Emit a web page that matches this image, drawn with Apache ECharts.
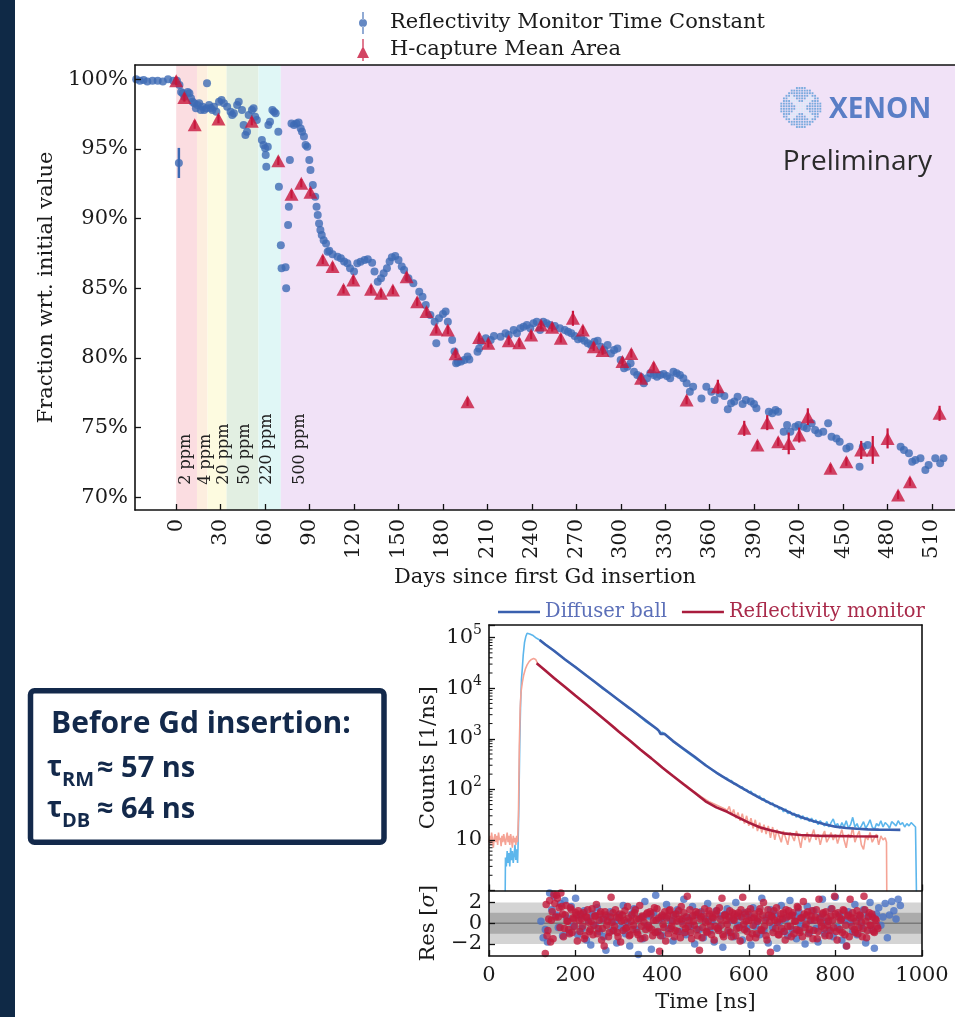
<!DOCTYPE html>
<html><head><meta charset="utf-8">
<script src="https://cdn.jsdelivr.net/npm/echarts@6/dist/echarts.min.js"></script>
<style>html,body{margin:0;padding:0;background:#fff}#c{width:955px;height:1017px}</style>
</head><body><div id="c"></div>
<script>
// ================= DATA =================
// --- top panel: axis ticks ---
const dayTicks = [0,30,60,90,120,150,180,210,240,270,300,330,360,390,420,450,480,510];
const pctTicks = [70,75,80,85,90,95,100];
// --- Gd concentration periods (days) ---
const bandStart = [0, 14, 21.1, 34, 55.5, 70.6];
const bandEnd   = [14, 21.1, 34, 55.5, 70.6, 530];
const bandLabel = ['2 ppm','4 ppm','20 ppm','50 ppm','220 ppm','500 ppm'];
const bandLabelDay = [6.2, 20, 32.2, 46.6, 61.1, 83.3];
// --- Reflectivity Monitor Time Constant (fraction, %) ---
const rmDay = [
-27,-24.5,-22,-19.5,-16,-12.5,-9,-5.5,-2,0.5,
1.8,2.2,3.3,4.4,5.5,7.8,8.9,10,11,12.2,
13.3,14.4,15.5,16.6,17.8,18.9,20.4,20.8,22.2,23.3,
24.4,25.5,27.1,28.9,30.6,32.2,34.4,36.7,37.8,38.9,
41.1,42.2,44.4,45.5,46.7,47.8,48.9,51.1,52.2,53.3,
54.4,57.8,58.9,60,60.4,60.8,61.8,62.2,63.3,64.9,
66,67.1,68.9,69.3,70.6,71.1,73.8,74.2,75.5,76,
76.7,77.8,79.5,81.1,82.6,84,84.9,86.2,87.3,88.4,
89.8,90.6,92.2,93.8,94.7,95.5,96.4,97.3,98.2,99.5,
101.1,102.2,103.3,105.5,108.9,111.1,113.3,115.5,117.3,120,
122.2,124.4,127.1,129.3,132.2,133.8,136,138.2,140,142.2,
144,145.5,147.8,150,152.2,153.8,156.7,160,164,166.2,
168.4,171.5,174.4,175.5,177.3,180,181.8,183.3,186.2,187.8,
188.9,190,192.2,194.4,196.6,197.8,203.3,204.4,205.5,208.9,
212.2,214.4,218.9,222.2,224.4,227.7,229.9,232.2,234.4,236.6,
238.9,241.1,243.3,245.5,247.7,249.9,252.2,255.5,258.9,262.2,
264.4,266.6,268.9,271.1,273.3,275.5,277.7,279.9,282.2,284.4,
286.6,288.9,291.1,293.3,295.5,297.7,299.9,302.2,304.4,306.6,
308.9,311.1,313.3,315.5,317.7,319.9,322.2,324.4,326.6,328.9,
331.1,333.3,335.5,337.7,339.9,342.2,344.4,346.6,348.8,354.4,
357.7,361.1,363.3,366.6,369.9,372.2,374.4,376.6,378.8,382.2,
384.4,387.7,389.9,391.5,399.9,402.2,404.4,406.2,409.9,412.2,
414.4,417.7,419.9,423.3,425.5,428.8,431.1,433.3,436.6,439.9,
442.2,445.5,447.7,452.2,454.4,461.1,463.3,466.6,488.8,491.1,
494.4,496.6,498.8,502.2,505.5,507.7,512.2,515.5,517.7];
const rmVal = [
100.0,99.9,99.95,99.85,99.9,99.9,99.85,100.0,99.9,99.9,
94.0,99.6,99.1,99.0,98.76,99.1,99.0,98.64,98.4,98.28,
97.92,98.16,98.28,97.8,98.04,97.8,97.92,99.72,98.16,97.95,
97.8,98.04,97.68,98.4,98.52,98.28,98.04,97.68,97.44,97.56,
98.16,98.4,97.8,96.72,96.0,96.24,97.44,97.8,97.92,97.32,
97.08,95.65,95.29,95.05,94.57,93.73,95.17,96.72,96.96,97.8,
97.68,97.56,96.24,92.29,88.1,86.44,86.51,85.0,89.55,90.86,
94.21,96.84,96.72,96.84,96.9,96.48,96.24,95.89,95.29,95.17,
94.21,93.49,92.42,91.58,90.86,90.26,89.66,89.18,88.82,88.46,
88.22,87.63,87.7,87.45,87.27,87.16,86.92,86.8,86.44,86.2,
86.8,86.9,87.04,87.08,86.84,86.2,85.48,85.72,86.08,86.44,
86.92,87.23,87.32,87.04,86.56,86.32,85.72,85.36,84.76,84.4,
83.8,83.09,82.61,81.05,82.85,83.15,83.33,82.61,81.29,80.46,
79.62,79.7,79.74,79.86,80.1,79.9,80.45,80.69,81.17,81.41,
81.29,81.58,81.53,81.77,81.65,82.01,81.77,82.13,82.25,82.37,
82.13,82.49,82.61,82.01,82.61,82.49,82.37,82.3,82.13,82.01,
81.89,81.77,81.58,81.34,81.41,81.24,81.05,80.93,81.17,81.24,
80.81,80.57,80.93,80.33,80.57,80.69,79.86,79.26,79.38,79.62,
79.02,78.78,78.66,78.18,78.54,78.9,78.78,78.66,78.78,78.85,
78.71,78.54,79.02,78.9,78.78,78.54,78.18,77.58,77.94,77.1,
77.94,77.58,76.98,77.46,77.27,76.32,76.75,76.87,77.22,76.7,
76.98,76.87,76.7,76.39,76.15,76.03,76.27,76.15,74.71,75.19,
74.71,75.07,75.19,75.07,74.95,75.31,74.83,74.59,74.71,75.31,
74.35,74.23,73.99,73.51,73.63,72.2,73.63,73.75,73.63,73.39,
73.16,72.56,72.68,72.8,71.96,72.32,72.8,72.44,72.8];
// visible error bar on the reflectivity-monitor series
const rmErrDay = [1.8];
const rmErrVal = [94.0];
const rmErrSize = [1.08];
// --- H-capture Mean Area ---
const hcDay = [0,5.5,12.5,28.5,51,68.9,77.8,84.4,90.6,98.9,105.5,112.9,119.5,131.5,138.2,146.2,155.5,162.6,168.9,175.5,183.3,188.5,196.6,204.4,210.6,224.4,231.5,239.5,246.2,253.7,259.5,267.7,274.4,281.7,287.7,301.1,307.1,313.7,322.2,344.4,365.5,383.3,392.2,398.8,406.2,413.3,420.4,426.2,441.5,452.2,462.2,470,480,487.1,495.1,515.1];
const hcVal = [99.9,98.7,96.75,97.15,97.0,94.15,91.75,92.55,91.9,87.05,86.56,84.93,85.6,84.93,84.64,84.88,85.84,84.04,83.33,82.06,82.01,80.3,76.86,81.48,81.05,81.24,81.1,81.65,82.37,82.2,81.41,82.85,82.01,80.81,80.53,79.74,80.33,78.54,79.38,76.98,77.94,74.95,73.75,75.36,73.99,73.87,74.47,75.79,72.08,72.56,73.4,73.4,74.23,70.17,71.12,76.03];
const hcErr = [0.3,0.3,0.3,0.3,0.3,0.3,0.3,0.3,0.3,0.3,0.3,0.3,0.3,0.3,0.3,0.3,0.3,0.3,0.3,0.3,0.3,0.3,0.3,0.3,0.3,0.3,0.3,0.3,0.3,0.3,0.3,0.54,0.3,0.3,0.3,0.3,0.3,0.3,0.3,0.3,0.5,0.54,0.3,0.54,0.3,0.78,0.54,0.6,0.3,0.3,0.65,1.0,0.72,0.3,0.3,0.54];

// --- bottom panel: waveform (Counts [1/ns]) ---
const timeTicks = [0,200,400,600,800,1000];
const resTicks = [-2,0,2];
const resBandLevels = [2, 1];
// Diffuser ball data
const dbT = [0,37,38,40,42,44,46,48,50,52,54,56,58,60,62,64,66,67,
69,71,73,75,77,79,82,85,88,91,94,98,102,106,110,117,
120,140,160,180,200,220,240,260,280,300,320,340,360,380,390,395,400,420,440,460,480,500,520,540,
550,555,560,565,570,575,580,585,590,595,
600,605,610,615,620,625,630,635,640,645,
650,655,660,665,670,675,680,685,690,695,
700,705,710,715,720,725,730,735,740,745,
750,755,760,765,770,775,780,785,790,795,
800,805,810,815,820,825,830,835,840,845,
850,855,860,865,870,875,880,885,890,895,
900,905,910,915,920,925,930,935,940,945,
950,955,960,965,970,975,980,985,987,988,1000];
const dbV = [0.3,0.3,4.5,3,6,3.5,5.5,3,7,4,6,3.5,5,8,4,6.5,3.5,7,
50,800,5000,15000,25000,45000,80000,105000,122000,125000,118000,112000,110000,104000,97000,90000,
86500,64000,47500,34000,26300,19000,14200,10100,7800,5750,4250,3150,2250,1720,1500,1300,1350,960,700,520,390,310,225,175,
165,148,150,128,130,121,108,112,96,99,
86,92,78,80,70,74,61,66,55,58,
50,54,45,48,40,44,36,41,33,37,
31,34,28,32,26,30,25,28,23,27,
22,25,20,24,21,19,23,18,22,26,
19,21,17,22,18,24,17,20,28,18,
21,16,19,23,17,20,25,18,16,21,
19,24,18,22,20,17,23,21,19,24,
20,22,18,21,19,22,20,18,17,0.3,0.3];
// Reflectivity monitor data
const rmT = [0,2,4,6,8,10,12,14,16,18,20,22,24,26,28,30,32,34,36,38,40,42,44,46,48,50,52,54,56,58,60,62,64,66,
68,70,72,74,77,80,84,88,93,98,103,108,112,
130,150,170,190,210,230,250,270,290,310,330,350,370,390,410,430,450,470,490,510,530,545,
550,555,560,565,570,575,580,585,590,595,
600,605,610,615,620,625,630,635,640,645,
650,655,660,665,670,675,680,685,690,695,
700,705,710,715,720,725,730,735,740,745,
750,755,760,765,770,775,780,785,790,795,
800,805,810,815,820,825,830,835,840,845,
850,855,860,865,870,875,880,885,890,895,
900,905,910,915,918,919,1000];
const rmV = [9,12,8,14,10,7,11,13,9,12,8,14,10,11,7.5,12,9,13,10,8,11,14,9,12,8,13,10,7,12,9,11,8,12,9,
30,700,4000,8500,13000,18000,24000,29000,34000,37000,38500,37000,31000,
22000,16300,11500,8400,6000,4400,3200,2300,1700,1150,860,620,440,330,225,170,130,95,72,56,47,41,
38,46,31,40,27,35,24,33,21,30,
19,27,17,25,15,22,14,20,13,19,
11,18,10,16,12,9,15,11,8,14,
12,9.5,15,11,7,13,10,14,9,12,
16,10,13,8,12,15,9,11,14,10,
13,8.5,12,16,10,7,13,11,18,9,
12,15,8,6.5,12,10,14,9,11,13,
8,12,10,11,9,0.3,0.3];
// Fits
const dbFitT = [117,130,150,175,200,225,250,275,300,325,350,375,388,393,396,400,405,425,450,475,500,525,550,575,600,625,650,675,700,725,750,775,800,825,850,875,900,925,950];
const dbFitV = [90000,73000,55000,37500,26000,17800,12300,8400,5800,4000,2750,1900,1560,1420,1250,1330,1260,900,630,440,300,215,158,118,89,68,53,42,33,27.5,23.5,20.5,18.3,17.2,16.6,16.2,16.0,15.9,15.8];
const rmFitT = [110,130,150,175,200,225,250,275,300,325,350,375,400,425,450,475,500,525,550,575,600,625,650,680,720,772,840,899];
const rmFitV = [31000,22500,16000,10700,7100,4750,3150,2100,1380,920,610,410,270,183,125,86,58,44,36,28,22,17.8,15.5,13.5,12.5,12,11.8,11.7];
// Residuals (diffuser ball)
const resBlueT = [120,125,130,135,140,145,
150,155,160,165,170,175,180,185,190,195,200,205,210,215,220,225,230,235,240,245,
250,255,260,265,270,275,280,285,290,295,300,305,310,315,320,325,330,335,340,345,
350,355,360,365,370,375,380,385,390,395,400,405,410,415,420,425,430,435,440,445,
450,455,460,465,470,475,480,485,490,495,500,505,510,515,520,525,530,535,540,545,
550,555,560,565,570,575,580,585,590,595,600,605,610,615,620,625,630,635,640,645,
650,655,660,665,670,675,680,685,690,695,700,705,710,715,720,725,730,735,740,745,
750,755,760,765,770,775,780,785,790,795,800,805,810,815,820,825,830,835,840,845,
850,855,860,865,870,875,880,885,890,895,900,905,910,915,920,925,930,935,940,945,950];
const resBlueV = [0.2,-1.4,-0.6,-1.8,2.9,1.3,
2.6,0.8,-0.4,1.9,-1.2,2.2,0.5,-0.9,1.6,-0.3,
2.4,-1.1,0.7,-0.5,1.2,-1.6,0.3,-2.1,0.9,-0.2,
1.5,-0.8,0.4,-1.3,-2.6,0.6,1.1,-0.7,0.2,-1.9,
0.8,-0.4,1.7,-1.0,0.1,-2.2,0.9,1.4,-0.6,-3.0,
0.5,-1.5,2.1,-0.3,0.7,-2.5,1.0,2.7,-0.9,0.4,
-1.2,0.6,1.8,-0.5,0.3,-1.7,0.9,1.3,-0.8,0.2,
2.3,-1.1,0.5,-0.3,1.6,-2.0,0.8,-0.6,1.1,-1.4,
0.4,1.9,-0.7,0.2,-1.8,1.2,-0.4,0.7,-2.3,0.9,
1.4,-0.9,0.3,-1.3,2.0,-0.2,0.6,-1.6,1.0,-0.5,
0.8,-2.1,1.5,-0.3,0.2,-1.1,2.4,-0.7,0.5,-1.9,
1.3,-0.4,0.9,-2.4,0.1,1.7,-0.8,0.4,-1.2,2.2,
-0.6,0.7,-1.5,1.1,-0.2,0.5,-2.0,1.6,-0.9,0.3,
1.2,-0.5,-1.8,0.6,2.3,-1.0,0.2,-0.7,1.4,-1.3,
2.5,-0.4,0.8,-1.6,0.3,-2.2,1.1,0.1,-0.8,1.8,
-1.1,0.5,-0.3,1.3,-1.9,0.7,2.0,-0.6,-2.4,0.9,
1.5,-0.2,0.6,1.9,-1.4,0.8,2.1,1.2,0.4,2.3,1.7];
// Residuals (reflectivity monitor)
const resRedT = [130,134,138,142,146,150,154,158,162,166,170,174,178,182,186,190,194,198,202,206,
210,214,218,222,226,230,234,238,242,246,250,254,258,262,266,270,274,278,282,286,
290,294,298,302,306,310,314,318,322,326,330,334,338,342,346,350,354,358,362,366,
370,374,378,382,386,390,394,398,402,406,410,414,418,422,426,430,434,438,442,446,
450,454,458,462,466,470,474,478,482,486,490,494,498,502,506,510,514,518,522,526,
530,534,538,542,546,550,554,558,562,566,570,574,578,582,586,590,594,598,602,606,
610,614,618,622,626,630,634,638,642,646,650,654,658,662,666,670,674,678,682,686,
690,694,698,702,706,710,714,718,722,726,730,734,738,742,746,750,754,758,762,766,
770,774,778,782,786,790,794,798,802,806,810,814,818,822,826,830,834,838,842,846,
850,854,858,862,866,870,874,878,882,886,890,894,898,
132,136,140,144,148,152,156,160,164,168,172,176,180,184,188,192,196,200,204,208,
212,216,220,224,228,232,236,240,244,248,252,256,260,264,268,272,276,280,284,288,
292,296,300,304,308,312,316,320,324,328,332,336,340,344,348,352,356,360,364,368,
372,376,380,384,388,392,396,400,404,408,412,416,420,424,428,432,436,440,444,448,
452,456,460,464,468,472,476,480,484,488,492,496,500,504,508,512,516,520,524,528,
532,536,540,544,548,552,556,560,564,568,572,576,580,584,588,592,596,600,604,608,
612,616,620,624,628,632,636,640,644,648,652,656,660,664,668,672,676,680,684,688,
692,696,700,704,708,712,716,720,724,728,732,736,740,744,748,752,756,760,764,768,
772,776,780,784,788,792,796,800,804,808,812,816,820,824,828,832,836,840,844,848,
852,856,860,864,868,872,876,880,884,888,892,896];
const resRedV = [-2.9,-1.2,0.4,-1.8,1.1,2.8,0.6,2.4,1.5,2.9,
0.9,-0.5,1.7,0.2,-1.0,1.3,0.5,-0.3,0.8,1.2,
-0.8,0.4,1.0,-1.2,0.6,0.1,-0.6,1.4,-0.2,0.7,
-1.0,0.3,1.1,-0.5,-2.2,0.8,0.2,-0.9,2.5,1.0,
-0.3,0.6,-1.3,0.9,0.2,-0.7,1.2,-0.4,0.5,-1.1,
0.8,-0.2,1.3,-0.9,0.4,-1.5,0.7,0.1,-0.6,1.0,
-0.4,0.9,-1.2,1.5,0.3,-0.8,-2.7,0.6,-0.1,1.1,
0.5,-1.0,1.3,-0.3,0.8,-0.7,0.2,1.2,-1.4,0.4,
1.0,-0.5,2.6,0.3,-0.9,0.7,-0.2,1.1,-1.2,-2.6,
0.6,-0.4,1.4,-0.8,0.2,0.9,-1.1,0.5,-0.3,1.2,
-0.7,0.4,2.4,-1.3,0.8,-0.1,0.6,-0.9,1.0,0.3,
-1.2,0.7,-0.4,1.3,2.5,-0.6,0.2,1.1,-1.4,0.5,
-0.2,0.9,-1.0,0.4,1.4,-0.7,2.0,0.3,-1.6,0.8,
-2.8,0.6,1.2,-0.5,0.1,-1.1,0.9,0.4,-0.8,1.3,
-0.3,0.7,-1.3,1.0,0.2,-0.6,1.5,-0.9,0.5,2.1,
-0.4,0.8,-1.0,0.3,1.2,-0.7,0.6,-1.5,2.3,0.1,
0.9,-0.5,1.1,-0.2,-1.2,0.7,0.3,2.6,-0.8,1.0,
-0.6,0.4,1.3,-1.1,-2.2,0.8,2.3,-0.3,0.5,-0.9,
1.2,-0.4,0.7,-1.3,2.6,0.2,-0.7,1.0,-0.2,0.6,
-0.9,0.3,-0.5,
1.8,-0.7,2.2,0.3,-1.5,1.9,2.7,0.6,-0.4,1.6,
-1.3,0.8,0.2,-0.6,1.5,-0.9,0.4,1.0,-1.7,0.3,
0.9,-0.3,-1.5,0.6,1.3,-0.8,0.2,-1.1,0.7,1.8,
-0.5,0.9,-1.6,0.4,1.1,-0.2,-1.3,0.6,0.1,-0.7,
1.3,-0.9,0.5,-1.8,0.8,0.3,-0.5,1.6,-1.2,0.2,
-0.6,1.0,0.4,-1.1,1.7,-0.3,0.6,-1.4,0.9,-0.2,
1.1,-0.6,0.3,-0.9,1.4,0.5,-1.2,0.8,-0.4,-1.7,
0.7,1.2,-0.5,0.2,-1.3,0.9,-0.8,0.4,1.6,-0.1,
-0.9,0.6,-0.3,1.3,-1.5,0.2,0.8,-0.6,1.0,0.4,
-1.4,0.7,0.1,-0.9,1.2,-0.3,0.6,-1.6,0.9,-0.5,
1.5,-0.2,-1.1,0.8,0.3,-0.7,1.2,-1.3,0.4,0.9,
-0.5,1.0,-1.7,0.6,-0.1,0.9,-0.8,0.3,1.4,-1.0,
0.5,-1.4,0.2,1.1,-0.6,0.8,-0.3,-1.2,1.3,0.1,
0.7,-0.9,0.3,1.5,-1.1,0.4,-0.5,1.0,-1.6,0.6,
1.2,-0.3,0.8,-1.0,0.2,1.6,-0.7,0.5,-1.3,0.9,
-0.1,1.1,-0.6,0.7,-1.5,0.3,1.3,-0.8,0.4,-0.3,
1.0,-1.2,0.5,0.2,-0.7,1.4,-0.4,0.9,-1.6,0.6,
0.3,-0.9,1.2,-0.2,0.7,-1.3,0.5,1.0,-0.6,0.2,
-1.0,0.8,0.1,-0.5,1.3,-1.4,0.6,-0.2,0.9,-0.8,
0.4,-0.3];

// ================= STYLE =================
const SERIF = "'DejaVu Serif', 'Liberation Serif', serif";
const SANS = "'Open Sans', 'Noto Sans', sans-serif";
const INK = '#1a1a1a';
const NAVY = '#13294b';
const BAND_COLORS = ['#fbdde1','#fdeedf','#fdfbe0','#e2efe2','#e0f7f6','#f1e2f7'];
const C_RM_DOT = '#3d6ab4', C_HC = '#c8163c';
const C_DB_DATA = '#5cb6ec', C_RM_DATA = '#f5a395';
const C_DB_FIT = '#3a60ae', C_RM_FIT = '#a91c3d';
const C_RES_B = '#4a72c4', C_RES_R = '#c21a3c';

const X_MIN = -27.8, X_MAX = 525.5, Y_MIN = 69.09, Y_MAX = 101.03;
const LOG_MIN = 1, LOG_MAX = 177828, RES_MIN = -3.15, RES_MAX = 3.15;
const BAND_LABEL_V = 70.9;

const zip = (a, b) => a.map((v, i) => [v, b[i]]);
const frameLine = {show: true, onZero: false, lineStyle: {color: '#111', width: 1.6}};
const tickIn = {show: true, inside: true, length: 6, lineStyle: {color: '#111', width: 1.3}};
const tickLbl = {fontFamily: SERIF, fontSize: 21, color: INK, hideOverlap: false};

function clipRect(x1, y1, x2, y2, cs) {
  return echarts.graphic.clipRectByRect(
    {x: Math.min(x1, x2), y: Math.min(y1, y2), width: Math.abs(x2 - x1), height: Math.abs(y2 - y1)},
    {x: cs.x, y: cs.y, width: cs.width, height: cs.height});
}
function errSeries(days, vals, errs, color, width, z) {
  return {
    type: 'custom', xAxisIndex: 0, yAxisIndex: 0, z, silent: true,
    data: days.map((d, i) => [d, vals[i], errs[i]]), encode: {x: 0, y: 1},
    renderItem: (p, api) => {
      const x = api.value(0), y = api.value(1), e = api.value(2);
      const a = api.coord([x, y - e]), b = api.coord([x, y + e]);
      return {type: 'line', shape: {x1: a[0], y1: a[1], x2: b[0], y2: b[1]}, style: {stroke: color, lineWidth: width}};
    }
  };
}

// minor ticks of the log axis (2..9 x 10^k)
const logMinor = [];
for (let k = 0; k <= 5; k++) for (let m = 2; m <= 9; m++) { const v = m * Math.pow(10, k); if (v < LOG_MAX) logMinor.push(v); }

// XENON logo (decoration)
const logoEls = [];
for (let i = -19.5; i <= 19.5; i += 2.6) for (let j = -19.5; j <= 19.5; j += 2.6) {
  if (i * i + j * j <= 400) {
    const onX = Math.abs(Math.abs(i) - Math.abs(j)) < 2.7 && i * i + j * j < 260;
    logoEls.push({type: 'rect', z: 100, silent: true, shape: {x: 800.8 + i - 0.95, y: 107.5 + j - 0.95, width: 1.9, height: 1.9},
      style: {fill: onX ? '#d6e9f8' : '#7aaade'}});
  }
}
logoEls.push({type: 'text', z: 100, x: 829, y: 110, style: {text: 'XENON', fontFamily: SANS, fontWeight: 'bold', fontSize: 28, fill: '#5a7ec6', align: 'left', verticalAlign: 'middle'}});
logoEls.push({type: 'text', z: 100, x: 932, y: 162, style: {text: 'Preliminary', fontFamily: SANS, fontSize: 28, fill: '#2b2b2b', align: 'right', verticalAlign: 'middle'}});

const ICON_DOT = 'path://M5.3,0 L6.7,0 L6.7,7.6 L5.3,7.6 Z M5.3,14.4 L6.7,14.4 L6.7,22 L5.3,22 Z M2,11 A4,4 0 1 0 10,11 A4,4 0 1 0 2,11 Z M0,11 L0.05,11.05 L0,11.1 Z M12,11 L11.95,11.05 L12,11.1 Z';
const ICON_TRI = 'path://M5.3,1 L6.7,1 L6.7,9 L5.3,9 Z M0,20 L6,8 L12,20 Z M5.3,20 L6.7,20 L6.7,23 L5.3,23 Z';

const boxText = (x, y, text, size) => ({type: 'text', z: 100, x, y,
  style: {text, fontFamily: SANS, fontWeight: 'bold', fontSize: size, fill: NAVY, align: 'left', verticalAlign: 'middle'}});

const option = {
  animation: false,
  backgroundColor: '#fff',
  grid: [
    {left: 135, top: 65, width: 830, height: 445},
    {left: 489, top: 625, width: 433, height: 265.5},
    {left: 489, top: 890.5, width: 433, height: 65.5}
  ],
  legend: [
    {orient: 'vertical', left: 352, top: 7, itemWidth: 12, itemHeight: 22, itemGap: 5,
     textStyle: {fontFamily: SERIF, fontSize: 21, color: INK, padding: [0, 0, 0, 16]},
     data: [{name: 'Reflectivity Monitor Time Constant', icon: ICON_DOT}, {name: 'H-capture Mean Area', icon: ICON_TRI}]},
    {orient: 'horizontal', left: 493, top: 597, itemWidth: 42, itemHeight: 2.5, itemGap: 15, icon: 'rect',
     textStyle: {fontFamily: SERIF, fontSize: 19.5},
     data: [{name: 'Diffuser ball', textStyle: {color: '#5b6fb8'}}, {name: 'Reflectivity monitor', textStyle: {color: '#a92a4a'}}]}
  ],
  xAxis: [
    {gridIndex: 0, type: 'value', min: X_MIN, max: X_MAX, z: 10,
     axisLine: frameLine, splitLine: {show: false},
     axisTick: Object.assign({}, tickIn, {customValues: dayTicks}),
     axisLabel: Object.assign({}, tickLbl, {customValues: dayTicks, rotate: 90, margin: 9, formatter: v => String(v)}),
     name: 'Days since first Gd insertion', nameLocation: 'middle', nameGap: 57,
     nameTextStyle: {fontFamily: SERIF, fontSize: 21, color: INK}},
    {gridIndex: 0, type: 'value', position: 'top', min: X_MIN, max: X_MAX, z: 10,
     axisLine: frameLine, axisTick: {show: false}, axisLabel: {show: false}, splitLine: {show: false}},
    {gridIndex: 1, type: 'value', min: 0, max: 1000, interval: 200, z: 10,
     axisLine: frameLine, axisTick: tickIn, axisLabel: {show: false}, splitLine: {show: false}},
    {gridIndex: 1, type: 'value', position: 'top', min: 0, max: 1000, z: 10,
     axisLine: frameLine, axisTick: {show: false}, axisLabel: {show: false}, splitLine: {show: false}},
    {gridIndex: 2, type: 'value', min: 0, max: 1000, z: 10,
     axisLine: frameLine, splitLine: {show: false},
     axisTick: Object.assign({}, tickIn, {customValues: timeTicks}),
     axisLabel: Object.assign({}, tickLbl, {customValues: timeTicks, margin: 9, formatter: v => String(v)}),
     name: 'Time [ns]', nameLocation: 'middle', nameGap: 36,
     nameTextStyle: {fontFamily: SERIF, fontSize: 21, color: INK}}
  ],
  yAxis: [
    {gridIndex: 0, type: 'value', min: Y_MIN, max: Y_MAX, z: 10,
     axisLine: frameLine, splitLine: {show: false},
     axisTick: Object.assign({}, tickIn, {customValues: pctTicks}),
     axisLabel: Object.assign({}, tickLbl, {customValues: pctTicks, margin: 7, formatter: v => Math.round(v) + '%'}),
     name: 'Fraction wrt. initial value', nameLocation: 'middle', nameGap: 76,
     nameTextStyle: {fontFamily: SERIF, fontSize: 21, color: INK}},
    {gridIndex: 1, type: 'log', logBase: 10, min: LOG_MIN, max: LOG_MAX, z: 10,
     axisLine: frameLine, splitLine: {show: false}, axisTick: tickIn,
     axisLabel: {margin: 7, color: INK, fontFamily: SERIF, fontSize: 21, hideOverlap: false,
       formatter: v => { const e = Math.log10(v); const r = Math.round(e);
         if (Math.abs(e - r) > 1e-6 || r === 0) return ''; if (r === 1) return '{b|10}'; return '{b|10}{s|' + r + '}'; },
       rich: {b: {fontFamily: SERIF, fontSize: 21, color: INK, lineHeight: 28, verticalAlign: 'middle'},
              s: {fontFamily: SERIF, fontSize: 14, color: INK, lineHeight: 14, verticalAlign: 'top'}}},
     name: 'Counts [1/ns]', nameLocation: 'middle', nameGap: 50,
     nameTextStyle: {fontFamily: SERIF, fontSize: 21, color: INK}},
    {gridIndex: 1, type: 'log', logBase: 10, min: LOG_MIN, max: LOG_MAX, position: 'right', z: 10,
     axisLine: frameLine, axisTick: {show: false}, axisLabel: {show: false}, splitLine: {show: false}},
    {gridIndex: 2, type: 'value', min: RES_MIN, max: RES_MAX, z: 10,
     axisLine: frameLine, splitLine: {show: false},
     axisTick: Object.assign({}, tickIn, {customValues: resTicks}),
     axisLabel: {show: false},
     name: '{a|Res [}{b|\u03c3}{a|]}', nameLocation: 'middle', nameGap: 50,
     nameTextStyle: {rich: {a: {fontFamily: SERIF, fontSize: 21, color: INK}, b: {fontFamily: SERIF, fontSize: 21, fontStyle: 'italic', color: INK}}}},
    {gridIndex: 2, type: 'value', min: RES_MIN, max: RES_MAX, position: 'right', z: 10,
     axisLine: frameLine, axisTick: {show: false}, axisLabel: {show: false}, splitLine: {show: false}}
  ],
  series: [
    // Gd concentration bands
    {type: 'custom', xAxisIndex: 0, yAxisIndex: 0, z: 1, silent: true,
     data: bandStart.map((s, i) => [s, bandEnd[i], i]), encode: {x: [0, 1]},
     renderItem: (p, api) => {
       const a = api.coord([api.value(0), Y_MAX]), b = api.coord([api.value(1), Y_MIN]);
       const shape = clipRect(a[0], a[1], b[0], b[1], p.coordSys);
       return shape ? {type: 'rect', shape, style: {fill: BAND_COLORS[api.value(2)]}} : null;
     }},
    {type: 'custom', xAxisIndex: 0, yAxisIndex: 0, z: 2, silent: true,
     data: bandLabelDay.map((d, i) => [d, BAND_LABEL_V, i]), encode: {x: 0, y: 1},
     renderItem: (p, api) => {
       const pt = api.coord([api.value(0), api.value(1)]);
       return {type: 'text', x: pt[0], y: pt[1], rotation: Math.PI / 2,
         style: {text: bandLabel[api.value(2)], fontFamily: SERIF, fontSize: 16, fill: '#222', align: 'left', verticalAlign: 'middle'}};
     }},
    errSeries(rmErrDay, rmErrVal, rmErrSize, C_RM_DOT, 2.5, 3),
    {name: 'Reflectivity Monitor Time Constant', type: 'scatter', xAxisIndex: 0, yAxisIndex: 0, z: 3,
     symbol: 'circle', symbolSize: 8, itemStyle: {color: C_RM_DOT}, data: zip(rmDay, rmVal)},
    errSeries(hcDay, hcVal, hcErr, C_HC, 2.2, 4),
    {name: 'H-capture Mean Area', type: 'scatter', xAxisIndex: 0, yAxisIndex: 0, z: 4,
     symbol: 'triangle', symbolSize: [14, 13], itemStyle: {color: C_HC}, data: zip(hcDay, hcVal)},

    // waveform panel
    {name: 'DB data', type: 'line', xAxisIndex: 2, yAxisIndex: 1, z: 2, showSymbol: false, silent: true,
     lineStyle: {color: C_DB_DATA, width: 1.6}, itemStyle: {color: C_DB_DATA}, data: zip(dbT, dbV)},
    {name: 'RM data', type: 'line', xAxisIndex: 2, yAxisIndex: 1, z: 3, showSymbol: false, silent: true,
     lineStyle: {color: C_RM_DATA, width: 1.6}, itemStyle: {color: C_RM_DATA}, data: zip(rmT, rmV)},
    {name: 'Diffuser ball', type: 'line', xAxisIndex: 2, yAxisIndex: 1, z: 4, showSymbol: false,
     lineStyle: {color: C_DB_FIT, width: 2.6}, itemStyle: {color: C_DB_FIT}, data: zip(dbFitT, dbFitV)},
    {name: 'Reflectivity monitor', type: 'line', xAxisIndex: 2, yAxisIndex: 1, z: 4, showSymbol: false,
     lineStyle: {color: C_RM_FIT, width: 2.6}, itemStyle: {color: C_RM_FIT}, data: zip(rmFitT, rmFitV)},
    // minor log ticks
    {type: 'custom', xAxisIndex: 2, yAxisIndex: 1, z: 9, silent: true,
     data: logMinor.map(v => [0, v]), encode: {x: 0, y: 1},
     renderItem: (p, api) => {
       const pt = api.coord([0, api.value(1)]);
       return {type: 'line', shape: {x1: pt[0], y1: pt[1], x2: pt[0] + 3.5, y2: pt[1]}, style: {stroke: '#111', lineWidth: 1}};
     }},

    // residual panel
    {type: 'custom', xAxisIndex: 4, yAxisIndex: 3, z: 1, silent: true,
     data: resBandLevels.map((l, i) => [l, i]), encode: {y: 0},
     renderItem: (p, api) => {
       const l = api.value(0), cs = p.coordSys;
       const a = api.coord([0, l]), b = api.coord([1000, -l]);
       return {type: 'rect', shape: clipRect(a[0], a[1], b[0], b[1], cs),
         style: {fill: api.value(1) === 0 ? '#d4d4d4' : '#ababab'}};
     }},
    {type: 'custom', xAxisIndex: 4, yAxisIndex: 3, z: 1.5, silent: true,
     data: [[0]], encode: {y: 0},
     renderItem: (p, api) => {
       const a = api.coord([0, 0]), b = api.coord([1000, 0]);
       return {type: 'line', shape: {x1: a[0], y1: a[1], x2: b[0], y2: b[1]}, style: {stroke: '#7a7a7a', lineWidth: 1.5}};
     }},
    {name: 'res DB', type: 'scatter', xAxisIndex: 4, yAxisIndex: 3, z: 3, symbolSize: 7.5,
     itemStyle: {color: C_RES_B}, data: zip(resBlueT, resBlueV)},
    {name: 'res RM', type: 'scatter', xAxisIndex: 4, yAxisIndex: 3, z: 4, symbolSize: 7.5,
     itemStyle: {color: C_RES_R}, data: zip(resRedT, resRedV)},
    // residual tick labels
    {type: 'custom', xAxisIndex: 4, yAxisIndex: 3, z: 10, silent: true,
     data: resTicks.map(v => [0, v]), encode: {x: 0, y: 1},
     renderItem: (p, api) => {
       const v = api.value(1), pt = api.coord([0, v]);
       return {type: 'text', x: pt[0] - 7, y: pt[1],
         style: {text: v < 0 ? '\u2212' + Math.abs(v) : String(v), fontFamily: SERIF, fontSize: 21, fill: INK, align: 'right', verticalAlign: 'middle'}};
     }}
  ],
  graphic: [
    {type: 'rect', z: 100, shape: {x: 0, y: 0, width: 15, height: 1017}, style: {fill: '#0f2946'}},
    ...logoEls,
    {type: 'rect', z: 100, shape: {x: 30.5, y: 690.7, width: 353.5, height: 151.5, r: 4}, style: {fill: '#fff', stroke: NAVY, lineWidth: 5.5}},
    boxText(51, 724, 'Before Gd insertion:', 30),
    boxText(47, 768, '\u03c4', 28),
    boxText(62, 780, 'RM', 20),
    boxText(97, 769, '\u2248 57 ns', 29),
    boxText(47, 809, '\u03c4', 28),
    boxText(62, 821, 'DB', 20),
    boxText(97, 810, '\u2248 64 ns', 29)
  ]
};

const chart = echarts.init(document.getElementById('c'), null, {renderer: 'canvas'});
chart.setOption(option);
</script></body></html>
